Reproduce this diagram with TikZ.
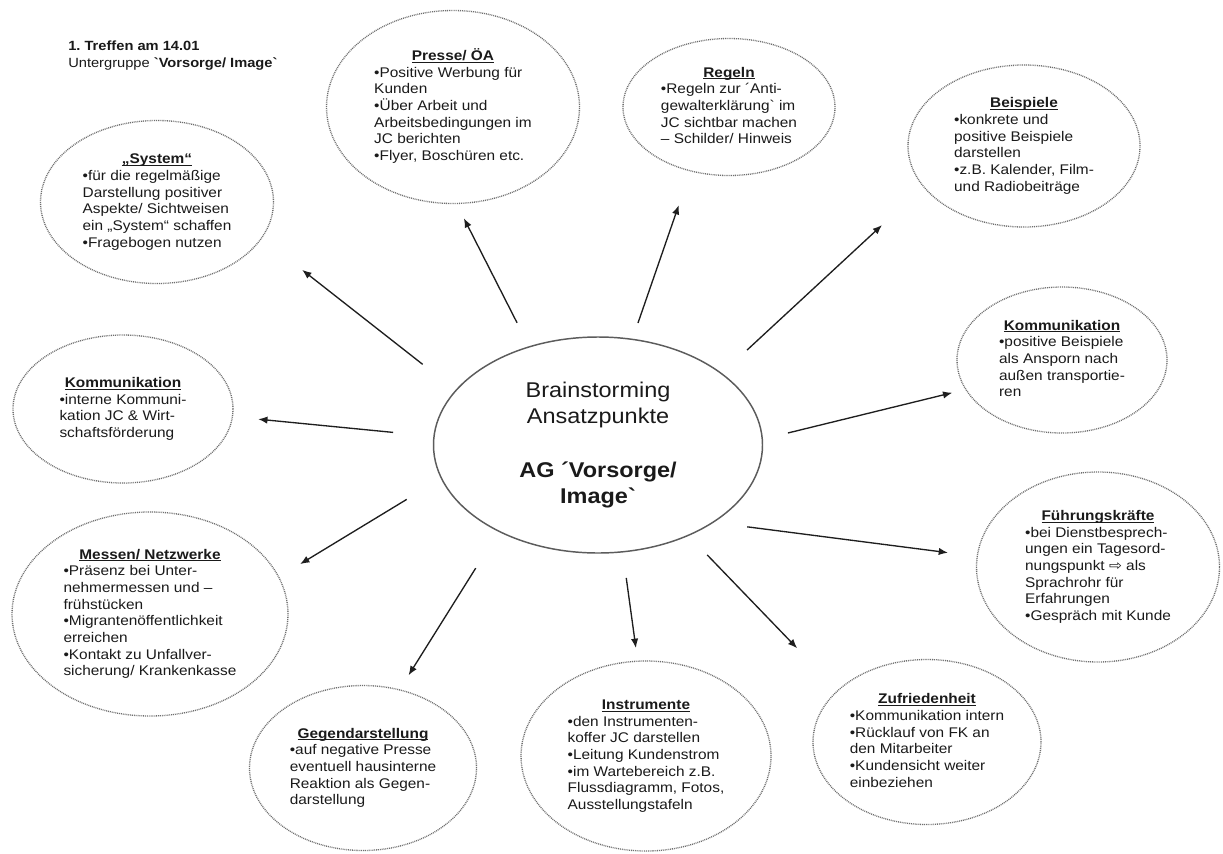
\documentclass[tikz,border=0pt]{standalone}
\usepackage{fontspec}
\setmainfont{Liberation Sans}[Ligatures=TeXOff, FakeStretch=1.1]
\newfontfamily\pfeilfont{DejaVu Sans}[FakeStretch=1.1]
\usetikzlibrary{shapes.geometric,arrows.meta}
\definecolor{RandGrau}{HTML}{6E6E6E}
\definecolor{KernGrau}{HTML}{5C5C5C}
\definecolor{PfeilSchwarz}{HTML}{1E1E1E}
\definecolor{TextSchwarz}{HTML}{1A1A1A}
\frenchspacing

% Unterstreichung knapp unter der Grundlinie, ohne Zeilenhoehe zu aendern
\newcommand{\unterstr}[1]{\setbox0\hbox{#1}\rlap{\rule[-1.7pt]{\wd0}{0.6pt}}\box0}
% Titel zentriert + unterstrichen, Stichpunkte linksbuendig
\newcommand{\idee}[2]{\begin{tabular}{@{}l@{}}\multicolumn{1}{@{}c@{}}{\unterstr{\textbf{#1}}}\\#2\end{tabular}}

\begin{document}
\begin{tikzpicture}[
    x=0.75pt, y=-0.75pt,
    idea/.style={ellipse, draw=RandGrau, dash pattern=on 0.7pt off 0.7pt, line width=1pt, inner sep=0pt, outer sep=0pt,
                 font=\fontsize{10.5}{12.5}\selectfont, text=TextSchwarz},
    hub/.style={ellipse, draw=KernGrau, line width=1.1pt, inner sep=0pt, outer sep=0pt, align=center,
                font=\fontsize{16}{20}\selectfont, text=TextSchwarz},
    arrow/.style={-{Latex[length=7pt, width=5.5pt]}, line width=1pt, color=PfeilSchwarz}
]

  \path[use as bounding box, fill=white] (0,0) rectangle (1223,853);

  % -------------------------------------------------------------
  % KOPFZEILE
  % -------------------------------------------------------------
  \node[anchor=north west, align=left, inner sep=0pt, font=\fontsize{10}{12.5}\selectfont, text=TextSchwarz] (kopf) at (68,41) {
    \textbf{1. Treffen am 14.01}\\Untergruppe \textbf{`Vorsorge/ Image`}
  };

  % -------------------------------------------------------------
  % ZENTRUM
  % -------------------------------------------------------------
  \node[hub, minimum width=246.75pt, minimum height=162pt] (center) at (598,445) {
    Brainstorming\\Ansatzpunkte\\[20pt]\textbf{AG ´Vorsorge/}\\\textbf{Image`}
  };

  % -------------------------------------------------------------
  % ANSATZPUNKTE (im Uhrzeigersinn ab oben links)
  % -------------------------------------------------------------
  \node[idea, minimum width=174.75pt, minimum height=122.25pt] (sys) at (157,202) {
    \idee{„System“}{•für die regelmäßige\\Darstellung positiver\\Aspekte/ Sichtweisen\\ein „System“ schaffen\\•Fragebogen nutzen}
  };
  \node[idea, minimum width=189.75pt, minimum height=144.75pt] (presse) at (453,107) {
    \idee{Presse/ ÖA}{•Positive Werbung für\\Kunden\\•Über Arbeit und\\Arbeitsbedingungen im\\JC berichten\\•Flyer, Boschüren etc.}
  };
  \node[idea, minimum width=159pt, minimum height=102.75pt] (regeln) at (729,107) {
    \idee{Regeln}{•Regeln zur ´Anti-\\gewalterklärung` im\\JC sichtbar machen\\– Schilder/ Hinweis}
  };
  \node[idea, minimum width=174pt, minimum height=121.5pt] (beisp) at (1024,146) {
    \idee{Beispiele}{•konkrete und\\positive Beispiele\\darstellen\\•z.B. Kalender, Film-\\und Radiobeiträge}
  };
  \node[idea, minimum width=157.5pt, minimum height=109.5pt] (komm_r) at (1062,360) {
    \idee{Kommunikation}{•positive Beispiele\\als Ansporn nach\\außen transportie-\\ren}
  };
  \node[idea, minimum width=182.25pt, minimum height=142.5pt] (fk) at (1098,567) {
    \idee{Führungskräfte}{•bei Dienstbesprech-\\ungen ein Tagesord-\\nungspunkt {\pfeilfont ⇨} als\\Sprachrohr für\\Erfahrungen\\•Gespräch mit Kunde}
  };
  \node[idea, minimum width=171pt, minimum height=123.75pt] (zufr) at (927,742) {
    \idee{Zufriedenheit}{•Kommunikation intern\\•Rücklauf von FK an\\den Mitarbeiter\\•Kundensicht weiter\\einbeziehen}
  };
  \node[idea, minimum width=187.5pt, minimum height=142.5pt] (instr) at (646,756) {
    \idee{Instrumente}{•den Instrumenten-\\koffer JC darstellen\\•Leitung Kundenstrom\\•im Wartebereich z.B.\\Flussdiagramm, Fotos,\\Ausstellungstafeln}
  };
  \node[idea, minimum width=170.25pt, minimum height=123.75pt] (gegen) at (363,768) {
    \idee{Gegendarstellung}{•auf negative Presse\\eventuell hausinterne\\Reaktion als Gegen-\\darstellung}
  };
  \node[idea, minimum width=207pt, minimum height=153pt] (messen) at (150,614) {
    \idee{Messen/ Netzwerke}{•Präsenz bei Unter-\\nehmermessen und –\\frühstücken\\•Migrantenöffentlichkeit\\erreichen\\•Kontakt zu Unfallver-\\sicherung/ Krankenkasse}
  };
  \node[idea, minimum width=165pt, minimum height=111pt] (komm_l) at (123,409) {
    \idee{Kommunikation}{•interne Kommuni-\\kation JC \& Wirt-\\schaftsförderung}
  };

  % -------------------------------------------------------------
  % PFEILE
  % -------------------------------------------------------------
  \draw[arrow, shorten <=31.8pt, shorten >=38.7pt] (center.159.4) -- (sys.-19);
  \draw[arrow, shorten <=20.3pt, shorten >=12.4pt] (center.125) -- (presse.-88.5);
  \draw[arrow, shorten <=13pt, shorten >=27.2pt] (center.72) -- (regeln.-121.7);
  \draw[arrow, shorten <=26.1pt, shorten >=42.5pt] (center.30) -- (beisp.-158);
  \draw[arrow, shorten <=19.8pt, shorten >=10.5pt] (center.2) -- (komm_r.-163.5);
  \draw[arrow, shorten <=26.1pt, shorten >=22.1pt] (center.-34.1) -- (fk.175.2);
  \draw[arrow, shorten <=20.4pt, shorten >=44pt] (center.-45) -- (zufr.150.9);
  \draw[arrow, shorten <=19.8pt, shorten >=10pt] (center.-77) -- (instr.95.6);
  \draw[arrow, shorten <=32.7pt, shorten >=12.9pt] (center.-139.3) -- (gegen.65.4);
  \draw[arrow, shorten <=30.5pt, shorten >=18.8pt] (center.192.3) -- (messen.16.1);
  \draw[arrow, shorten <=30.9pt, shorten >=19.4pt] (center.177.2) -- (komm_l.-4.4);

\end{tikzpicture}
\end{document}
